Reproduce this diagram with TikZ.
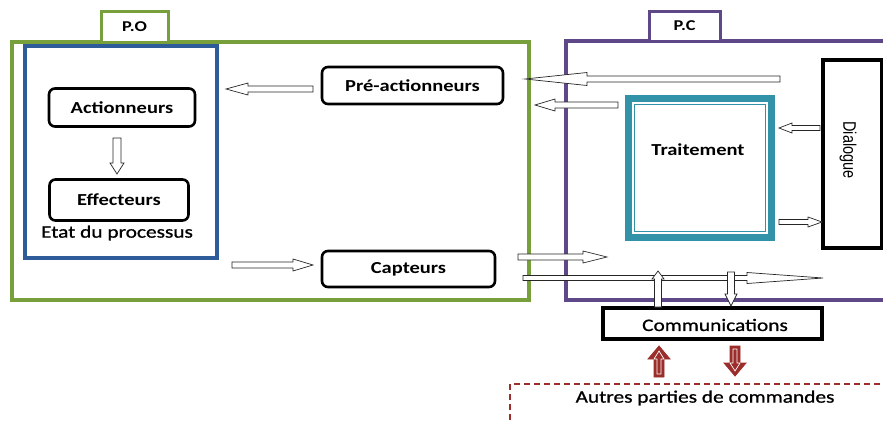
\documentclass[tikz,border=0pt]{standalone}
\usepackage{graphicx}
\usepackage{fontspec}
\setmainfont{Carlito}[FakeStretch=1.22]
\newfontfamily\medf{Carlito}[FakeStretch=1.22,FakeBold=0.9]
\newfontfamily\arialf{Liberation Sans}
\usetikzlibrary{calc}
\definecolor{pogreen}{HTML}{77A03C}
\definecolor{poblue}{HTML}{2E5C9A}
\definecolor{pcpurple}{HTML}{5E4888}
\definecolor{tealb}{HTML}{3292A8}
\definecolor{dred}{HTML}{9B2D2A}
% [style]{tail}{tip}{shaft half width}{head half width}{head length}
\newcommand\blockarr[6][]{%
  \coordinate (bah) at ($(#3)!#6!(#2)$);
  \draw[#1] ($(#2)!#4!90:(#3)$) -- ($(bah)!#4!90:(#3)$) -- ($(bah)!#5!90:(#3)$) -- (#3)
    -- ($(bah)!#5!-90:(#3)$) -- ($(bah)!#4!-90:(#3)$) -- ($(#2)!#4!-90:(#3)$) -- cycle;}
\begin{document}
\begin{tikzpicture}[x=1pt,y=-1pt,
  rbox/.style={draw, line width=2.6pt, rounded corners=6pt, inner sep=0pt, font=\bfseries\fontsize{16.8}{19}\selectfont},
  sbox/.style={draw, line width=3.6pt, inner sep=0pt},
  tabbox/.style={line width=3pt, fill=white, inner sep=0pt, font=\bfseries\fontsize{15}{17}\selectfont},
  regtext/.style={inner sep=0pt, font=\medf\fontsize{17.5}{20}\selectfont},
  harr/.style={draw=black!85, line width=0.7pt, fill=white},
  rarr/.style={draw=dred, line width=0.8pt, fill=dred},
  rin/.style={draw=white, line width=0.7pt}]
\clip (0,0) rectangle (883,423);
\fill[white] (0,0) rectangle (883,423);

% P.O
\node[draw=pogreen, line width=3.6pt, minimum width=517pt, minimum height=258pt] (po) at (270.5,171) {};
\node[tabbox, draw=pogreen, minimum width=67pt, minimum height=31pt] (potab) at (134.5,26.5) {P.O};
\node[draw=poblue, line width=3.5pt, minimum width=192pt, minimum height=212pt] (blue) at (121,152) {};
\node[rbox, minimum width=146pt, minimum height=38pt] (act) at (122,107.5) {Actionneurs};
\node[rbox, minimum width=139pt, minimum height=41pt] (eff) at (119,200) {Effecteurs\hspace{12pt}};
\node[regtext] (etat) at (117,233) {Etat du processus};
\node[rbox, minimum width=181pt, minimum height=37pt] (pre) at (412.5,85.5) {Pré-actionneurs};
\node[rbox, minimum width=173pt, minimum height=36pt] (cap) at (408.5,269) {Capteurs};

% P.C
\node[draw=pcpurple, line width=4pt, minimum width=328pt, minimum height=259pt] (pc) at (730,170.5) {};
\node[tabbox, draw=pcpurple, minimum width=71pt, minimum height=30pt] (pctab) at (684.5,26) {P.C};
\node[draw=tealb, line width=6.5pt, minimum width=143pt, minimum height=139pt] (trait) at (700,168) {};
\node[draw=tealb, line width=1.2pt, minimum width=131pt, minimum height=127pt] (traitin) at (700,168) {};
\node[inner sep=0pt, font=\bfseries\fontsize{16.8}{19}\selectfont] (traitlbl) at (698,150) {Traitement};
\node[sbox, line width=4pt, minimum width=59pt, minimum height=188pt] (dia) at (852.5,154) {};
\node[inner sep=0pt, rotate=-90] (dialbl) at (848,150) {\scalebox{1}[1.25]{\arialf\fontsize{14.5}{16}\selectfont Dialogue}};
\node[sbox, minimum width=219pt, minimum height=31pt] (comm) at (712.5,323.5) {};
\node[regtext] (commlbl) at (715,325) {Communications};

% other command parts
\draw[dred, line width=1.2pt, dash pattern=on 6pt off 4pt] (510,430) -- (510,384) -- (900,384);
\node[regtext] (autres) at (705,398) {Autres parties de commandes};

% arrow end points
\coordinate (a1t) at (313,89);  \coordinate (a1h) at (226,89);
\coordinate (a2t) at (117,138); \coordinate (a2h) at (117,174);
\coordinate (a3t) at (232,265); \coordinate (a3h) at (313,265);
\coordinate (a4t) at (780,79);  \coordinate (a4h) at (525,79);
\coordinate (a5t) at (618,105); \coordinate (a5h) at (535,105);
\coordinate (a6t) at (820,128); \coordinate (a6h) at (779,128);
\coordinate (a7t) at (779,222); \coordinate (a7h) at (822,222);
\coordinate (a8t) at (518,257); \coordinate (a8h) at (607,257);
\coordinate (a9t) at (523,278); \coordinate (a9h) at (823,278);
\coordinate (a10t) at (658,307); \coordinate (a10h) at (658,271);
\coordinate (a11t) at (731,272); \coordinate (a11h) at (731,306);
\coordinate (r1t) at (659,377); \coordinate (r1h) at (659,346);
\coordinate (r2t) at (735,346); \coordinate (r2h) at (735,376);
\coordinate (r1ti) at (659,374); \coordinate (r1hi) at (659,351);
\coordinate (r2ti) at (735,349); \coordinate (r2hi) at (735,371);

\blockarr[harr]{a1t}{a1h}{3pt}{6pt}{22pt}
\blockarr[harr]{a2t}{a2h}{4pt}{7pt}{11pt}
\blockarr[harr]{a3t}{a3h}{3pt}{6pt}{20pt}
\blockarr[harr]{a4t}{a4h}{3pt}{6.5pt}{62pt}
\blockarr[harr]{a5t}{a5h}{3pt}{6pt}{20pt}
\blockarr[harr]{a6t}{a6h}{2.5pt}{5pt}{13pt}
\blockarr[harr]{a7t}{a7h}{2.5pt}{5pt}{14pt}
\blockarr[harr]{a8t}{a8h}{3pt}{6pt}{24pt}
\blockarr[harr]{a9t}{a9h}{2.5pt}{5.5pt}{76pt}
\blockarr[harr]{a10t}{a10h}{3.5pt}{6pt}{8pt}
\blockarr[harr]{a11t}{a11h}{3.5pt}{6pt}{12pt}
\blockarr[rarr]{r1t}{r1h}{5pt}{11pt}{13pt}
\blockarr[rarr]{r2t}{r2h}{5pt}{11pt}{13pt}
\blockarr[rin]{r1ti}{r1hi}{2pt}{5pt}{8pt}
\blockarr[rin]{r2ti}{r2hi}{2pt}{5pt}{8pt}
\end{tikzpicture}
\end{document}
